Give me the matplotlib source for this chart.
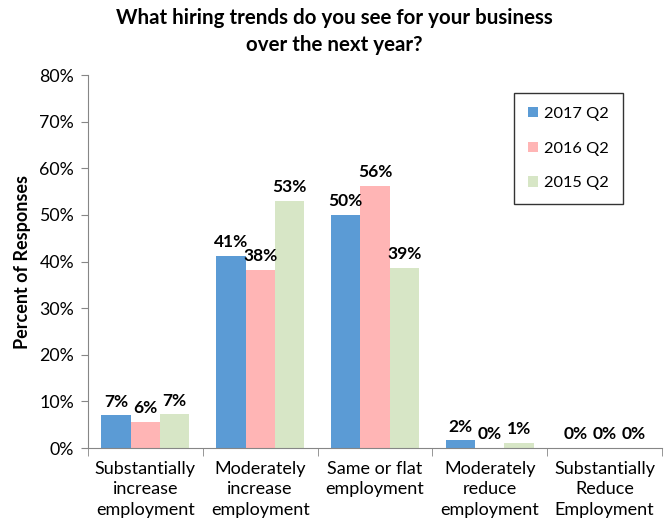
import matplotlib
matplotlib.use("Agg")
import matplotlib.pyplot as plt
from matplotlib.ticker import FuncFormatter
import numpy as np

FONT = ["Lato", "DejaVu Sans"]
plt.rcParams["font.family"] = FONT

categories = [
    "Substantially\nincrease\nemployment",
    "Moderately\nincrease\nemployment",
    "Same or flat\nemployment",
    "Moderately\nreduce\nemployment",
    "Substantially\nReduce\nEmployment",
]
series_names = ["2017 Q2", "2016 Q2", "2015 Q2"]
q2_2017 = [7.0, 41.2, 50.0, 1.7, 0.0]
q2_2016 = [5.6, 38.2, 56.2, 0.0, 0.0]
q2_2015 = [7.2, 53.0, 38.6, 1.1, 0.0]

COLORS = ["#5B9BD5", "#FFB5B5", "#D7E6C6"]
AXIS_GRAY = "#868686"

fig = plt.figure(figsize=(6.69, 5.29), dpi=100)
ax = fig.add_axes([0.1315, 0.1531, 0.858, 0.7051])

x = np.arange(len(categories))
width = 0.255
for i, (name, vals, col) in enumerate(zip(series_names, [q2_2017, q2_2016, q2_2015], COLORS)):
    pos = x + (i - 1) * width
    ax.bar(pos, vals, width, color=col, label=name, edgecolor="none")
    for px, v in zip(pos, vals):
        ax.annotate(f"{v:.0f}%", (px, v), xytext=(0, 4), textcoords="offset points",
                    ha="center", va="bottom", fontsize=12.5, fontweight="bold", color="black")

ax.set_xlim(-0.5, len(categories) - 0.5)
ax.set_ylim(0, 80)
ax.set_yticks(np.arange(0, 81, 10))
ax.yaxis.set_major_formatter(FuncFormatter(lambda v, _: f"{v:.0f}%"))
ax.tick_params(axis="y", direction="out", length=5, color=AXIS_GRAY, labelsize=12.8, pad=5)

# category labels centred, tick marks between categories
ax.set_xticks(x)
ax.set_xticklabels(categories, fontsize=13, linespacing=1.38)
ax.tick_params(axis="x", which="major", length=0, pad=9)
ax.set_xticks(np.arange(-0.5, len(categories)), minor=True)
ax.tick_params(axis="x", which="minor", direction="out", length=6, color=AXIS_GRAY)

for s in ["top", "right"]:
    ax.spines[s].set_visible(False)
for s in ["left", "bottom"]:
    ax.spines[s].set_color(AXIS_GRAY)

ax.set_ylabel("Percent of Responses", fontsize=13, fontweight="bold", labelpad=6)

leg = ax.legend(loc="upper right", bbox_to_anchor=(0.932, 0.952), borderaxespad=0,
                frameon=True, fancybox=False,
                fontsize=11.8, handlelength=0.6, handleheight=0.6, labelspacing=1.27,
                borderpad=0.85, handletextpad=0.4)
leg.get_frame().set_edgecolor("black")
leg.get_frame().set_linewidth(1.0)

fig.text(0.5, 0.985, "What hiring trends do you see for your business\nover the next year?",
         ha="center", va="top", fontsize=14.8, fontweight="bold", linespacing=1.45)

fig.savefig("out.png", dpi=100, facecolor="white")
